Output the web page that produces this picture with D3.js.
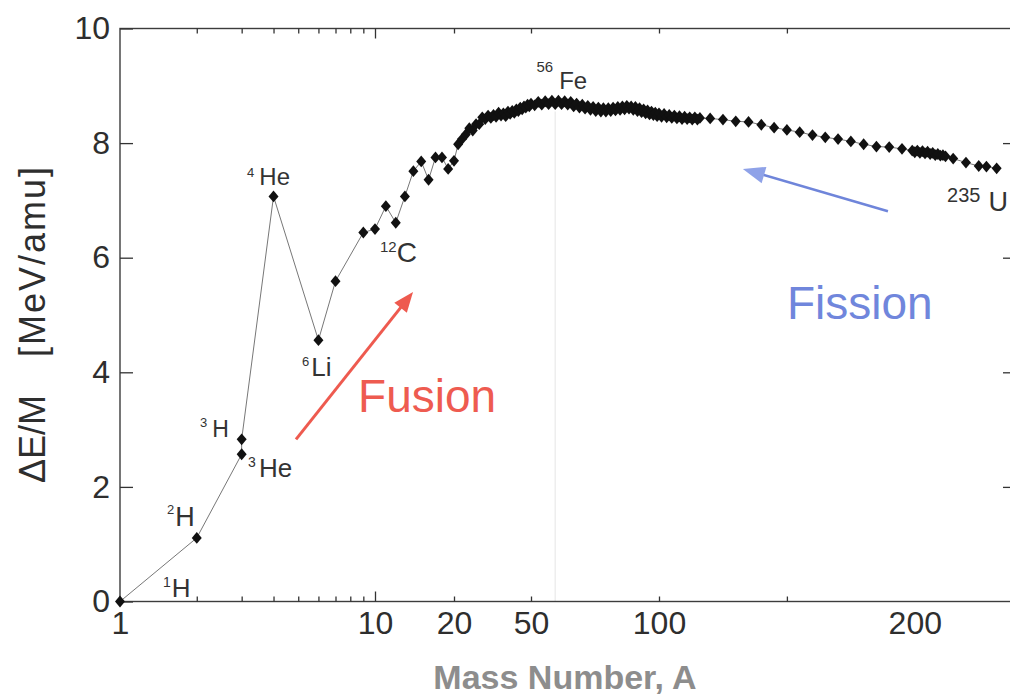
<!DOCTYPE html>
<html>
<head>
<meta charset="utf-8">
<script src="https://cdn.jsdelivr.net/npm/d3@7"></script>
<style>
  html, body { margin: 0; padding: 0; background: #ffffff; }
  svg { display: block; font-family: "Liberation Sans", Arial, Helvetica, sans-serif; }
</style>
</head>
<body>
<svg id="chart" width="1010" height="695"></svg>
<script>
// Binding energy per nucleon versus mass number, in the order the curve joins the nuclides.
const massNumber = [
  1, 2, 3, 3, 4, 6, 7, 9, 10, 11, 12, 13, 14, 15, 16, 17, 18, 19, 20,
  21, 22, 23, 24, 25, 26, 27, 28, 29, 30, 31, 32, 33, 34, 35, 36, 37, 38, 39, 40,
  41, 42, 43, 44, 45, 46, 47, 48, 49, 50,
  51, 52, 53, 54, 55, 56, 57, 58, 59, 60, 61, 62, 63, 64, 65, 66, 67, 68, 69, 70,
  71, 72, 73, 74, 75, 76, 77, 78, 79, 80, 81, 82, 83, 84, 85, 86, 87, 88, 89, 90,
  91, 92, 93, 94, 95, 96, 97, 98, 99, 100,
  101, 102, 103, 104, 105, 106, 107, 108, 109, 110, 111, 112, 113, 114, 115, 116,
  120, 125, 130, 135, 140, 145, 150, 155, 160, 165, 170, 175, 180, 185, 190, 195,
  199, 200, 201, 202, 203, 204, 205, 206, 207, 208, 209, 210, 211, 212,
  215, 220, 225, 228, 232
];
const bindingEnergy = [
  0.00, 1.11, 2.57, 2.83, 7.07, 4.56, 5.59, 6.44, 6.50, 6.90, 6.61, 7.07, 7.51, 7.68, 7.36, 7.75, 7.75, 7.55, 7.69,
  7.98, 8.07, 8.15, 8.26, 8.22, 8.33, 8.33, 8.45, 8.42, 8.48, 8.44, 8.49, 8.46, 8.53, 8.48, 8.52, 8.47, 8.55, 8.51, 8.56,
  8.53, 8.59, 8.56, 8.62, 8.59, 8.64, 8.62, 8.67, 8.64, 8.69,
  8.66, 8.72, 8.67, 8.73, 8.68, 8.74, 8.68, 8.74, 8.68, 8.73, 8.67, 8.72, 8.64, 8.69, 8.62, 8.67, 8.60, 8.65, 8.58, 8.63,
  8.56, 8.62, 8.55, 8.61, 8.55, 8.61, 8.56, 8.62, 8.57, 8.63, 8.58, 8.64, 8.59, 8.65, 8.60, 8.64, 8.58, 8.63, 8.56, 8.61,
  8.54, 8.59, 8.52, 8.57, 8.50, 8.55, 8.49, 8.53, 8.47, 8.52,
  8.46, 8.51, 8.45, 8.49, 8.44, 8.48, 8.43, 8.47, 8.42, 8.46, 8.42, 8.45, 8.41, 8.45, 8.41, 8.44,
  8.43, 8.41, 8.38, 8.37, 8.32, 8.27, 8.23, 8.19, 8.14, 8.10, 8.07, 8.03, 7.98, 7.94, 7.93, 7.90,
  7.87, 7.84, 7.87, 7.83, 7.86, 7.82, 7.85, 7.81, 7.83, 7.79, 7.81, 7.78, 7.79, 7.77,
  7.73, 7.66, 7.60, 7.59, 7.56
];

// Axis ticks
const xTickValues = [1, 10, 20, 50, 100, 200];
const xTickLabels = ["1", "10", "20", "50", "100", "200"];
const xSmallTicks = [2, 3, 4, 5, 6, 7, 8, 9, 20, 50, 100, 150];
const xDecadeTicks = [10];
const yTickValues = [0, 2, 4, 6, 8, 10];
const yRightTicks = [2, 4, 6, 8];

// Nuclide names, placed in (mass number, MeV) units
const labelSup = ["1", "2", "3", "3", "4", "6", "12", "56", "235"];
const labelSym = ["H", "H", "H", "He", "He", "Li", "C", "Fe", "U"];
const labelMass = [1.474, 1.529, 2.06, 3.18, 3.15, 5.17, 10.45, 51.5, 212.6];
const labelEnergy = [0.087, 1.31, 2.865, 2.166, 7.266, 3.93, 5.92, 8.94, 6.81];

// Arrows and captions, (mass number, MeV) units
const fusionArrow = [[4.9, 2.83], [13.96, 5.40]];
const fissionArrow = [[189.5, 6.81], [132.8, 7.55]];
const fusionCaption = { text: "Fusion", a: 8.58, e: 3.30 };
const fissionCaption = { text: "Fission", a: 150.0, e: 4.93 };
const peakGuideMass = 57;

// ---------- layout ----------
const plotLeft = 120, plotRight = 1012, plotTop = 28.5, plotBottom = 601.5;
const svg = d3.select("#chart");

// Mass-number axis: logarithmic up to 100 (compressed between 20 and 50), linear beyond.
const logMap = d3.scaleLinear()
  .domain([0, 1, Math.log10(20), Math.log10(50), 2])
  .range([plotLeft, 375, 454, 531, 659]);
const linMap = d3.scaleLinear().domain([100, 238]).range([659, plotRight]);
function x(a) { return a <= 100 ? logMap(Math.log10(a)) : linMap(a); }
x.copy = () => x;
x.range = () => [plotLeft, plotRight];
x.domain = () => [1, 238];

const y = d3.scaleLinear().domain([0, 10]).range([plotBottom, plotTop]);

// faint guide under the iron peak
svg.append("line")
  .attr("x1", x(peakGuideMass)).attr("x2", x(peakGuideMass))
  .attr("y1", y(8.55)).attr("y2", y(0))
  .attr("stroke", "#eeeeee").attr("stroke-width", 1.5);

// frame
svg.append("rect")
  .attr("x", plotLeft).attr("y", plotTop)
  .attr("width", plotRight - plotLeft).attr("height", plotBottom - plotTop)
  .attr("fill", "none").attr("stroke", "#3c3c3c").attr("stroke-width", 1.4);

function styleAxis(g, fontSize) {
  g.select(".domain").remove();
  g.selectAll(".tick line").attr("stroke", "#333").attr("stroke-width", 1.3);
  g.selectAll(".tick text")
    .attr("font-size", fontSize)
    .attr("font-family", "'Liberation Sans', Arial, sans-serif")
    .attr("fill", "#2e2e2e");
}

// left axis
svg.append("g").attr("transform", `translate(${plotLeft},0)`)
  .call(d3.axisLeft(y).tickValues(yTickValues).tickSize(-13).tickPadding(10).tickFormat(d3.format("d")))
  .call(g => styleAxis(g, 32));

// right axis ticks
svg.append("g").attr("transform", `translate(${plotRight},0)`)
  .call(d3.axisRight(y).tickValues(yRightTicks).tickSize(-9).tickFormat(""))
  .call(g => styleAxis(g, 0));

// bottom axis labels and ticks
svg.append("g").attr("transform", `translate(0,${plotBottom})`)
  .call(d3.axisBottom(x).tickValues(xTickValues).tickSize(0).tickPadding(10)
    .tickFormat((d, i) => xTickLabels[i]))
  .call(g => styleAxis(g, 32));
svg.append("g").attr("transform", `translate(0,${plotBottom})`)
  .call(d3.axisBottom(x).tickValues(xSmallTicks).tickSize(-5).tickFormat(""))
  .call(g => styleAxis(g, 0));
svg.append("g").attr("transform", `translate(0,${plotBottom})`)
  .call(d3.axisBottom(x).tickValues(xDecadeTicks).tickSize(-10).tickFormat(""))
  .call(g => styleAxis(g, 0));

// top axis ticks
svg.append("g").attr("transform", `translate(0,${plotTop})`)
  .call(d3.axisTop(x).tickValues(xSmallTicks).tickSize(-5).tickFormat(""))
  .call(g => styleAxis(g, 0));
svg.append("g").attr("transform", `translate(0,${plotTop})`)
  .call(d3.axisTop(x).tickValues(xDecadeTicks).tickSize(-10).tickFormat(""))
  .call(g => styleAxis(g, 0));

// axis titles
svg.append("text")
  .attr("x", 565).attr("y", 689)
  .attr("text-anchor", "middle")
  .attr("font-size", 34).attr("font-weight", "bold")
  .attr("fill", "#8d8d8d")
  .text("Mass Number, A");

const yTitle = svg.append("text")
  .attr("transform", "translate(45,324) rotate(-90)")
  .attr("text-anchor", "middle")
  .attr("font-size", 36)
  .attr("fill", "#2e2e2e");
yTitle.append("tspan").text("ΔE/M");
yTitle.append("tspan").attr("dx", 38).attr("letter-spacing", 2).text("[MeV/amu]");

// curve and nuclide markers
const nuclides = massNumber.map((a, i) => ({ a, e: bindingEnergy[i] }));

svg.append("path")
  .datum(nuclides)
  .attr("fill", "none")
  .attr("stroke", "#777")
  .attr("stroke-width", 1)
  .attr("d", d3.line().x(d => x(d.a)).y(d => y(d.e)));

const diamond = {
  draw(context, size) {
    const w = Math.sqrt(size) / 2, h = w * 1.18;
    context.moveTo(0, -h);
    context.lineTo(w, 0);
    context.lineTo(0, h);
    context.lineTo(-w, 0);
    context.closePath();
  }
};
svg.append("g")
  .selectAll("path")
  .data(nuclides)
  .join("path")
  .attr("transform", d => `translate(${x(d.a)},${y(d.e)})`)
  .attr("d", d3.symbol().type(diamond).size(100))
  .attr("fill", "#111");

// nuclide names with mass-number superscripts
const labelFont = [26, 27, 23, 26, 24, 26, 28, 24, 27];
const supFont = [14, 13, 13, 14, 13, 13, 15, 15, 20];
const supRaise = [10, 12, 10, 10, 8, 10, 10, 17, 9];
const supGap = [1, 1, 5, 3, 5, 2, 0, 6, 8];
labelSym.forEach((sym, i) => {
  const t = svg.append("text")
    .attr("x", x(labelMass[i]))
    .attr("y", y(labelEnergy[i]))
    .attr("fill", "#333");
  t.append("tspan").attr("font-size", supFont[i]).attr("dy", -supRaise[i]).text(labelSup[i]);
  t.append("tspan").attr("font-size", labelFont[i]).attr("dy", supRaise[i]).attr("dx", supGap[i]).text(sym);
});

// arrows
function drawArrow(pts, lineColor, headColor, width, headLen, headHalf) {
  const x1 = x(pts[0][0]), y1 = y(pts[0][1]);
  const x2 = x(pts[1][0]), y2 = y(pts[1][1]);
  const ang = Math.atan2(y2 - y1, x2 - x1);
  const bx = x2 - headLen * Math.cos(ang), by = y2 - headLen * Math.sin(ang);
  const px = -Math.sin(ang) * headHalf, py = Math.cos(ang) * headHalf;
  svg.append("line")
    .attr("x1", x1).attr("y1", y1).attr("x2", bx + 2 * Math.cos(ang)).attr("y2", by + 2 * Math.sin(ang))
    .attr("stroke", lineColor).attr("stroke-width", width);
  svg.append("path")
    .attr("d", `M${x2},${y2}L${bx + px},${by + py}L${bx - px},${by - py}Z`)
    .attr("fill", headColor);
}
drawArrow(fusionArrow, "#ee5a4f", "#ee5a4f", 3, 20, 8);
drawArrow(fissionArrow, "#6f85da", "#8fa2e8", 2.5, 22, 8.5);

// captions
svg.append("text")
  .attr("x", x(fusionCaption.a)).attr("y", y(fusionCaption.e))
  .attr("font-size", 46).attr("fill", "#ee5b50")
  .text(fusionCaption.text);
svg.append("text")
  .attr("x", x(fissionCaption.a)).attr("y", y(fissionCaption.e))
  .attr("font-size", 46).attr("fill", "#7086dc")
  .text(fissionCaption.text);
</script>
</body>
</html>
